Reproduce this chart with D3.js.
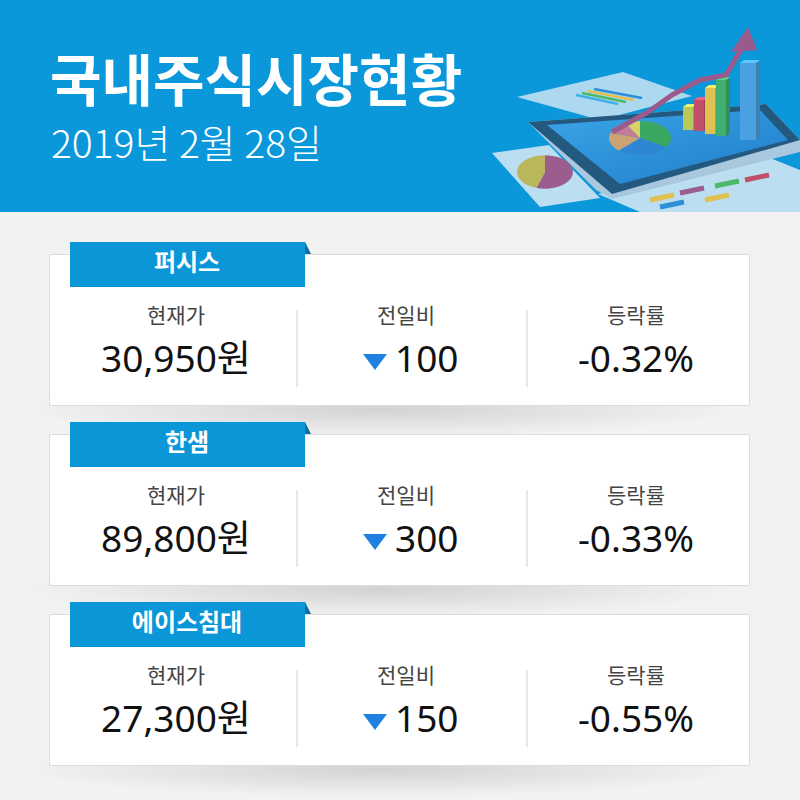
<!DOCTYPE html>
<html>
<head>
<meta charset="utf-8">
<script src="https://cdn.jsdelivr.net/npm/d3@7"></script>
<style>
  html, body { margin: 0; padding: 0; background: #f2f2f2; }
  svg { display: block; font-family: "Noto Sans CJK KR", "Noto Sans", sans-serif; }
  .num { font-family: "Noto Sans", "Noto Sans CJK KR", sans-serif; }
</style>
</head>
<body>
<script>
// data
const title = "국내주식시장현황";
const dateLabel = "2019년 2월 28일";
const columns = ["현재가", "전일비", "등락률"];
const names = ["퍼시스", "한샘", "에이스침대"];
const prices = [30950, 89800, 27300];
const changes = [-100, -300, -150];
const rates = [-0.32, -0.33, -0.55];

const w = 800;
const h = 800;

let svg = d3.select("body").append("svg").attr("width", w).attr("height", h);
let defs = svg.append("defs");

let sh = defs.append("radialGradient").attr("id", "shadow");
sh.append("stop").attr("offset", "0%").attr("stop-color", "#000").attr("stop-opacity", 0.13);
sh.append("stop").attr("offset", "100%").attr("stop-color", "#000").attr("stop-opacity", 0);

let scr = defs.append("linearGradient").attr("id", "screen").attr("x1", 0).attr("y1", 0).attr("x2", 1).attr("y2", 1);
scr.append("stop").attr("offset", "0%").attr("stop-color", "#3aa6e8");
scr.append("stop").attr("offset", "100%").attr("stop-color", "#1f7cc8");

// header
svg.append("rect").attr("width", w).attr("height", 212).attr("fill", "#0a98db");

svg.append("text")
  .attr("x", 50).attr("y", 101)
  .attr("fill", "#fff")
  .style("font-size", "56px").style("font-weight", 700)
  .text(title);

svg.append("text")
  .attr("x", 51).attr("y", 158)
  .attr("fill", "#fff")
  .style("font-size", "39px").style("font-weight", 300)
  .text(dateLabel);

// header illustration (decoration)
let ill = svg.append("g");
const poly = (pts, fill, op) => ill.append("polygon")
  .attr("points", pts.map((p) => p.join(",")).join(" "))
  .attr("fill", fill).attr("opacity", op || 1);

poly([[517, 97], [623, 72], [692, 96], [600, 120]], "#bfe0f2", 0.9);
[["#3fb0e8", 0], ["#4cb86a", 1], ["#e0c050", 2], ["#2d8fd8", 3]].forEach(([c, i]) => {
  ill.append("line")
    .attr("x1", 576 + i * 6).attr("y1", 95 - i * 2)
    .attr("x2", 618 + i * 8).attr("y2", 104 - i * 2)
    .attr("stroke", c).attr("stroke-width", 2.5);
});
poly([[492, 153], [549, 145], [600, 198], [540, 207]], "#cfe6f3", 0.9);
ill.append("path")
  .attr("transform", "translate(545,172) scale(1,0.6)")
  .attr("d", d3.arc().innerRadius(0).outerRadius(28)({ startAngle: 0, endAngle: Math.PI * 1.1 }))
  .attr("fill", "#9b5d8e");
ill.append("path")
  .attr("transform", "translate(545,172) scale(1,0.6)")
  .attr("d", d3.arc().innerRadius(0).outerRadius(28)({ startAngle: Math.PI * 1.1, endAngle: Math.PI * 2 }))
  .attr("fill", "#b9b65c");
poly([[598, 194], [770, 158], [800, 170], [800, 212], [640, 212]], "#cfe6f3", 0.9);
[[650, 200, "#e0c050"], [680, 193, "#9b5d8e"], [715, 186, "#4cb86a"], [745, 180, "#c05068"], [660, 207, "#2d8fd8"], [705, 200, "#e0c050"]]
  .forEach(([x, y, c]) => {
    ill.append("line").attr("x1", x).attr("y1", y).attr("x2", x + 24).attr("y2", y - 5)
      .attr("stroke", c).attr("stroke-width", 5);
  });

// tablet
poly([[528, 122], [766, 104], [800, 140], [800, 152], [612, 199], [596, 190]], "#a9c8de");
poly([[528, 122], [766, 104], [800, 140], [612, 194]], "#24597f");
poly([[547, 125], [760, 110], [788, 140], [620, 184]], "url(#screen)");

// pie on tablet
let pieG = ill.append("g").attr("transform", "translate(640,138) scale(1,0.55)");
let pieCols = ["#3aa860", "#2f86d4", "#c9a373", "#c27c95", "#d7d166"];
pieG.selectAll("path")
  .data(d3.pie().sort(null)([34, 28, 18, 12, 8]))
  .enter().append("path")
  .attr("d", d3.arc().innerRadius(0).outerRadius(31))
  .attr("fill", (d, i) => pieCols[i]);

// 3D bars
[[683, 107, 130, "#b8c85a"], [694, 100, 131, "#c0506a"], [705, 88, 134, "#e0c050"], [716, 80, 136, "#40b070"], [740, 63, 140, "#4aa0e0"]]
  .forEach(([x, t, b, c], i) => {
    let bw = i === 4 ? 16 : 10;
    ill.append("rect").attr("x", x).attr("y", t).attr("width", bw).attr("height", b - t).attr("fill", c);
    poly([[x + bw, t], [x + bw + 4, t - 3], [x + bw + 4, b - 3], [x + bw, b]], d3.color(c).darker(0.6));
    poly([[x, t], [x + 4, t - 3], [x + bw + 4, t - 3], [x + bw, t]], d3.color(c).brighter(0.6));
  });

// arrow
ill.append("polyline")
  .attr("points", "612,132 648,112 672,95 700,80 726,75 742,48")
  .attr("fill", "none").attr("stroke", "#9b5a8c").attr("stroke-width", 5).attr("stroke-linejoin", "round");
poly([[731, 52], [757, 50], [748, 27]], "#9b5a8c");

// cards
let yCard = d3.scaleBand().domain(names).range([254, 794]);
let xCol = d3.scalePoint().domain(columns).range([176, 636]);
const cardH = 151;
const fmt = d3.format(",");
const fmtRate = d3.formatLocale({ decimal: ".", thousands: ",", grouping: [3], currency: ["", ""], minus: "-" }).format(".2f");

let cards = svg.selectAll("g.card")
  .data(names.map((n, i) => ({ name: n, price: prices[i], change: changes[i], rate: rates[i] })))
  .enter().append("g")
  .attr("class", "card")
  .attr("transform", (d) => "translate(0," + yCard(d.name) + ")");

cards.append("ellipse")
  .attr("cx", 380).attr("cy", cardH + 4).attr("rx", 360).attr("ry", 28)
  .attr("fill", "url(#shadow)");

cards.append("rect")
  .attr("x", 49.5).attr("y", 0.5).attr("width", 700).attr("height", cardH)
  .attr("fill", "#fff").attr("stroke", "#dcdcdc");

// tab
cards.append("polygon").attr("points", "305,-12 311,0 305,0").attr("fill", "#0b6fa3");
cards.append("rect")
  .attr("x", 70).attr("y", -12).attr("width", 235).attr("height", 45)
  .attr("fill", "#0b96d8");
cards.append("text")
  .attr("x", 187).attr("y", 17)
  .attr("text-anchor", "middle")
  .attr("fill", "#fff")
  .style("font-size", "24px").style("font-weight", 700)
  .text((d) => d.name);

// dividers
cards.selectAll("line.div")
  .data(columns.slice(0, 2))
  .enter().append("line")
  .attr("class", "div")
  .attr("x1", (c) => xCol(c) + 121).attr("x2", (c) => xCol(c) + 121)
  .attr("y1", 56).attr("y2", 133)
  .attr("stroke", "#cfcfcf");

// column labels
cards.selectAll("text.lab")
  .data(columns)
  .enter().append("text")
  .attr("class", "lab")
  .attr("x", (c) => xCol(c)).attr("y", 69)
  .attr("text-anchor", "middle")
  .attr("fill", "#444")
  .style("font-size", "21px")
  .text((c) => c);

// values
cards.append("text")
  .attr("class", "num")
  .attr("x", xCol("현재가")).attr("y", 118)
  .attr("text-anchor", "middle")
  .attr("fill", "#111")
  .style("font-size", "37px")
  .text((d) => fmt(d.price) + "원");

cards.append("path")
  .attr("transform", "translate(" + (xCol("전일비") - 31) + ",108)")
  .attr("d", (d) => d.change < 0 ? "M-12,-8 L12,-8 L0,8 Z" : "M-12,8 L12,8 L0,-8 Z")
  .attr("fill", (d) => d.change < 0 ? "#1e80e0" : "#e0302a");

cards.append("text")
  .attr("class", "num")
  .attr("x", xCol("전일비") - 11).attr("y", 118)
  .attr("fill", "#111")
  .style("font-size", "37px")
  .text((d) => fmt(Math.abs(d.change)));

cards.append("text")
  .attr("class", "num")
  .attr("x", xCol("등락률")).attr("y", 118)
  .attr("text-anchor", "middle")
  .attr("fill", "#111")
  .style("font-size", "37px")
  .text((d) => fmtRate(d.rate) + "%");
</script>
</body>
</html>
